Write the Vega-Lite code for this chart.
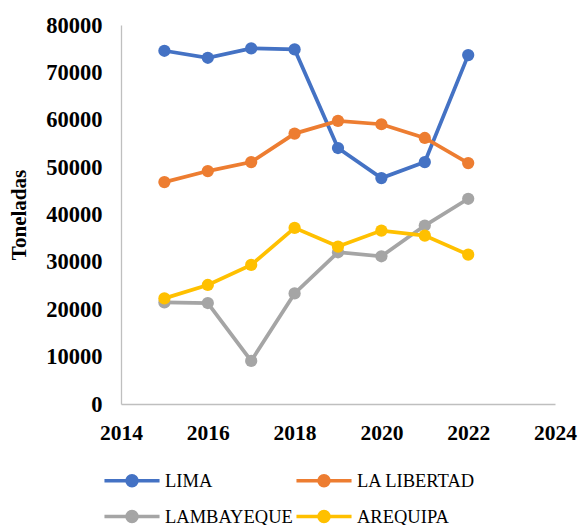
{
  "$schema": "https://vega.github.io/schema/vega-lite/v6.json",
  "width": 434,
  "height": 379,
  "autosize": "none",
  "padding": {"left": 121, "top": 25, "right": 27, "bottom": 121},
  "background": "white",
  "data": {
    "values": [
      {"year": 2015, "region": "LIMA", "t": 74560},
      {"year": 2016, "region": "LIMA", "t": 73080},
      {"year": 2017, "region": "LIMA", "t": 75070},
      {"year": 2018, "region": "LIMA", "t": 74850},
      {"year": 2019, "region": "LIMA", "t": 54030},
      {"year": 2020, "region": "LIMA", "t": 47680},
      {"year": 2021, "region": "LIMA", "t": 51070},
      {"year": 2022, "region": "LIMA", "t": 73650},
      {"year": 2015, "region": "LA LIBERTAD", "t": 46840},
      {"year": 2016, "region": "LA LIBERTAD", "t": 49170},
      {"year": 2017, "region": "LA LIBERTAD", "t": 51070},
      {"year": 2018, "region": "LA LIBERTAD", "t": 57080},
      {"year": 2019, "region": "LA LIBERTAD", "t": 59750},
      {"year": 2020, "region": "LA LIBERTAD", "t": 59050},
      {"year": 2021, "region": "LA LIBERTAD", "t": 56150},
      {"year": 2022, "region": "LA LIBERTAD", "t": 50860},
      {"year": 2015, "region": "LAMBAYEQUE", "t": 21440},
      {"year": 2016, "region": "LAMBAYEQUE", "t": 21310},
      {"year": 2017, "region": "LAMBAYEQUE", "t": 9100},
      {"year": 2018, "region": "LAMBAYEQUE", "t": 23350},
      {"year": 2019, "region": "LAMBAYEQUE", "t": 32030},
      {"year": 2020, "region": "LAMBAYEQUE", "t": 31180},
      {"year": 2021, "region": "LAMBAYEQUE", "t": 37670},
      {"year": 2022, "region": "LAMBAYEQUE", "t": 43320},
      {"year": 2015, "region": "AREQUIPA", "t": 22290},
      {"year": 2016, "region": "AREQUIPA", "t": 25120},
      {"year": 2017, "region": "AREQUIPA", "t": 29350},
      {"year": 2018, "region": "AREQUIPA", "t": 37180},
      {"year": 2019, "region": "AREQUIPA", "t": 33230},
      {"year": 2020, "region": "AREQUIPA", "t": 36610},
      {"year": 2021, "region": "AREQUIPA", "t": 35550},
      {"year": 2022, "region": "AREQUIPA", "t": 31530}
    ]
  },
  "encoding": {
    "x": {
      "field": "year", "type": "quantitative",
      "scale": {"domain": [2014, 2024], "nice": false, "zero": false},
      "axis": {
        "title": null, "values": [2014, 2016, 2018, 2020, 2022, 2024], "format": "d",
        "grid": false, "ticks": false, "domainColor": "#BFBFBF", "domainWidth": 1.3,
        "labelFont": "Liberation Serif", "labelFontSize": 21.5, "labelFontWeight": "bold",
        "labelColor": "#000000", "labelPadding": 18, "labelFlush": false
      }
    },
    "y": {
      "field": "t", "type": "quantitative",
      "scale": {"domain": [0, 80000], "nice": false},
      "axis": {
        "title": "Toneladas", "values": [0, 10000, 20000, 30000, 40000, 50000, 60000, 70000, 80000], "format": "d",
        "grid": false, "ticks": false, "domainColor": "#BFBFBF", "domainWidth": 1.3,
        "labelFont": "Liberation Serif", "labelFontSize": 22.5, "labelFontWeight": "bold",
        "labelColor": "#000000", "labelPadding": 19,
        "titleFont": "Liberation Serif", "titleFontSize": 21, "titleFontWeight": "bold",
        "titleColor": "#000000", "titlePadding": 16
      }
    },
    "color": {
      "field": "region", "type": "nominal",
      "scale": {
        "domain": ["LIMA", "LA LIBERTAD", "LAMBAYEQUE", "AREQUIPA"],
        "range": ["#4472C4", "#ED7D31", "#A5A5A5", "#FFC000"]
      },
      "legend": {
        "title": null, "orient": "none", "legendX": -4.5, "legendY": 440,
        "direction": "horizontal", "columns": 2, "padding": 0,
        "symbolType": "M-2.04,0L2.04,0M-0.37,0A0.37,0.37 0 1,0 0.37,0A0.37,0.37 0 1,0 -0.37,0Z",
        "symbolSize": 729, "symbolStrokeWidth": 3.5,
        "labelFont": "Liberation Serif", "labelFontSize": 18.5, "labelColor": "#000000",
        "labelOffset": 17.5, "columnPadding": -5, "rowPadding": 8, "labelLimit": 300
      }
    }
  },
  "layer": [
    {"mark": {"type": "line", "strokeWidth": 3.75}},
    {"mark": {"type": "point", "filled": true, "opacity": 1, "size": 150}}
  ],
  "config": {"view": {"stroke": null}}
}
